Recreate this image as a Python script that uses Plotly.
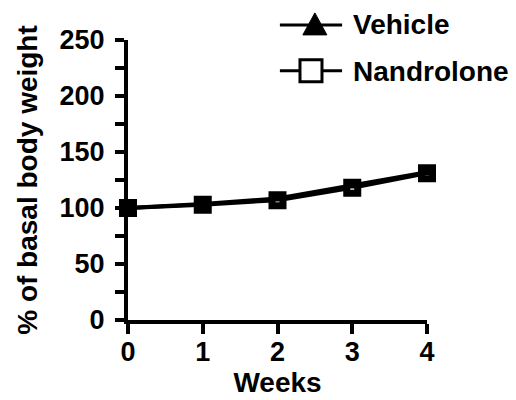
import plotly.graph_objects as go

# Body weight relative to baseline, by week
weeks = [0, 1, 2, 3, 4]
vehicle = [100, 103.5, 108.5, 120, 132]
nandrolone = [100, 103, 107, 118, 131]

series_names = ["Vehicle", "Nandrolone"]
y_ticks = [0, 50, 100, 150, 200, 250]
x_ticks = [0, 1, 2, 3, 4]

FONT = "Liberation Sans"
fig = go.Figure()

# Nandrolone: open squares with a heavy outline
fig.add_trace(go.Scatter(
    x=weeks, y=nandrolone, name=series_names[1], mode="lines+markers",
    line=dict(color="black", width=4),
    marker=dict(symbol="square", size=11, color="white",
                line=dict(color="black", width=7)),
    cliponaxis=False, showlegend=False,
))
# Vehicle: filled triangles
fig.add_trace(go.Scatter(
    x=weeks, y=vehicle, name=series_names[0], mode="lines+markers",
    line=dict(color="black", width=4),
    marker=dict(symbol="triangle-up", size=12, color="black"),
    cliponaxis=False, showlegend=False,
))

# Hand-drawn legend in the upper right
legend_shapes = [
    dict(type="line", xref="paper", yref="paper", x0=0.508, x1=0.716,
         y0=1.054, y1=1.054, line=dict(color="black", width=3)),
    dict(type="path", xref="paper", yref="paper", xsizemode="pixel",
         ysizemode="pixel", xanchor=0.625, yanchor=1.054,
         path="M -12,-10 L 12,-10 L 0,12 Z",
         fillcolor="black", line=dict(color="black", width=1)),
    dict(type="line", xref="paper", yref="paper", x0=0.508, x1=0.716,
         y0=0.89, y1=0.89, line=dict(color="black", width=3)),
    dict(type="rect", xref="paper", yref="paper", xsizemode="pixel",
         ysizemode="pixel", xanchor=0.612, yanchor=0.89,
         x0=-11, x1=11, y0=-11, y1=11,
         fillcolor="white", line=dict(color="black", width=3)),
]
legend_labels = [
    dict(text="<b>Vehicle</b>", xref="paper", yref="paper", x=0.745, y=1.054,
         xanchor="left", yanchor="middle", showarrow=False,
         font=dict(family=FONT, size=28, color="black")),
    dict(text="<b>Nandrolone</b>", xref="paper", yref="paper", x=0.745, y=0.886,
         xanchor="left", yanchor="middle", showarrow=False,
         font=dict(family=FONT, size=28, color="black")),
]

fig.update_layout(
    width=516, height=400,
    margin=dict(l=128, r=89, t=40, b=80),
    paper_bgcolor="white", plot_bgcolor="white",
    font=dict(family=FONT, color="black"),
    shapes=legend_shapes,
    annotations=legend_labels,
)

fig.update_xaxes(
    range=[0, 4], tickvals=x_ticks, ticktext=[f"<b>{t}</b>" for t in x_ticks],
    showline=True, linecolor="black", linewidth=4, showgrid=False,
    zeroline=False, ticks="outside", ticklen=10, tickwidth=4, tickcolor="black",
    tickfont=dict(family=FONT, size=27), ticklabelstandoff=-5, automargin=False,
    title=dict(text="<b>Weeks</b>", font=dict(family=FONT, size=28), standoff=5),
)
fig.update_yaxes(
    range=[0, 250], tickvals=y_ticks, ticktext=[f"<b>{t}</b>" for t in y_ticks],
    showline=True, linecolor="black", linewidth=4, showgrid=False,
    zeroline=False, ticks="outside", ticklen=9, tickwidth=4, tickcolor="black",
    tickfont=dict(family=FONT, size=27), ticklabelstandoff=5, automargin=False,
    minor=dict(dtick=25, tick0=0, ticks="outside", ticklen=9, tickwidth=4,
               tickcolor="black", showgrid=False),
    title=dict(text="<b>% of basal body weight</b>", font=dict(family=FONT, size=28),
               standoff=15),
)

fig.write_html("out.html")
